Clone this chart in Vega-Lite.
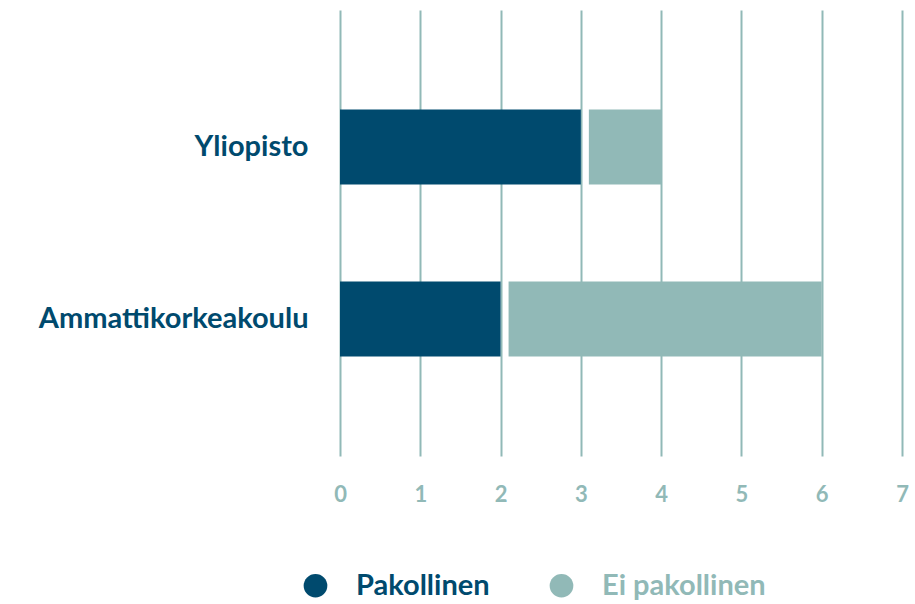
{
  "$schema": "https://vega.github.io/schema/vega-lite/v6.json",
  "width": 562,
  "height": 446,
  "autosize": {"type": "none"},
  "padding": {"left": 340, "top": 10, "right": 13, "bottom": 148},
  "background": "white",
  "config": {"view": {"stroke": null}, "font": "Lato"},
  "data": {"values": [
    {"category": "Yliopisto", "type": "Pakollinen", "value": 3},
    {"category": "Yliopisto", "type": "Ei pakollinen", "value": 1},
    {"category": "Ammattikorkeakoulu", "type": "Pakollinen", "value": 2},
    {"category": "Ammattikorkeakoulu", "type": "Ei pakollinen", "value": 4}
  ]},
  "transform": [
    {"stack": "value", "groupby": ["category"], "sort": [{"field": "type", "order": "descending"}], "as": ["start", "end"]}
  ],
  "encoding": {
    "y": {
      "field": "category", "type": "nominal", "sort": ["Yliopisto", "Ammattikorkeakoulu"],
      "scale": {"paddingInner": 0.564, "paddingOuter": 0.578},
      "axis": {"title": null, "domain": false, "ticks": false, "labelFont": "Lato", "labelFontWeight": "bold", "labelFontSize": 29, "labelColor": "#004a6e", "labelPadding": 32, "labelLimit": 400}
    },
    "x": {
      "field": "start", "type": "quantitative",
      "scale": {"domain": [0, 7], "nice": false},
      "axis": {"title": null, "domain": false, "ticks": false, "values": [0,1,2,3,4,5,6,7], "labelOverlap": false, "grid": true, "gridColor": "#91b9b7", "gridWidth": 2, "labelFont": "Lato", "labelFontWeight": "bold", "labelFontSize": 22, "labelColor": "#91b9b7", "labelPadding": 28, "labelFlush": false}
    },
    "x2": {"field": "end"},
    "color": {
      "field": "type", "type": "nominal",
      "scale": {"domain": ["Pakollinen", "Ei pakollinen"], "range": ["#004a6e", "#91b9b7"]},
      "legend": {
        "title": null, "orient": "none", "direction": "horizontal", "legendX": -39, "legendY": 561,
        "symbolType": "circle", "symbolSize": 560, "symbolOpacity": 1, "symbolStrokeWidth": 0,
        "labelFont": "Lato", "labelFontWeight": "bold", "labelFontSize": 29, "labelOffset": 26, "labelLimit": 400,
        "columnPadding": 57, "padding": 0,
        "encode": {"labels": {"update": {"fill": {"signal": "datum.value === 'Pakollinen' ? '#004a6e' : '#91b9b7'"}}}}
      }
    }
  },
  "layer": [
    {"transform": [{"filter": "datum.type === 'Pakollinen'"}], "mark": {"type": "bar"}},
    {"transform": [{"filter": "datum.type === 'Ei pakollinen'"}], "mark": {"type": "bar", "xOffset": 8}}
  ]
}
